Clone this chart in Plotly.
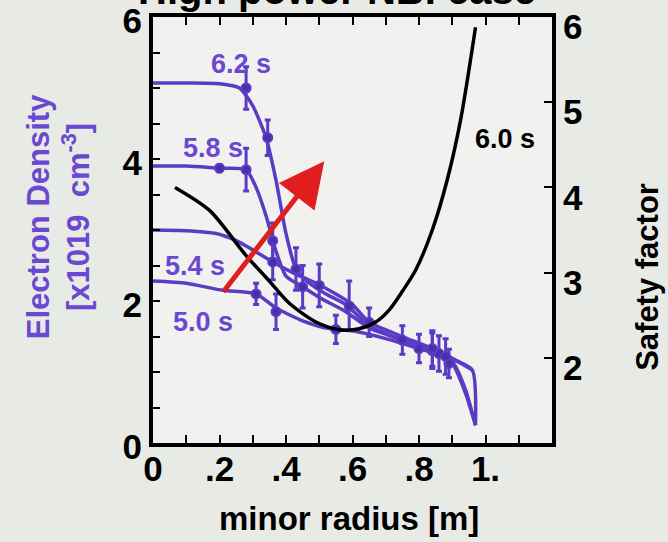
import plotly.graph_objects as go

# ---------------- data ----------------
# Electron density profiles (x = minor radius [m], y = density [x1019 cm-3])
r_62 = [0, 0.1, 0.2, 0.26, 0.30, 0.34, 0.37, 0.40, 0.43, 0.47, 0.52, 0.58, 0.65, 0.75, 0.85, 0.90, 0.94, 0.97]
n_62 = [5.07, 5.07, 5.06, 5.0, 4.75, 4.3, 3.7, 2.95, 2.45, 2.25, 2.1, 1.95, 1.65, 1.45, 1.27, 1.12, 0.7, 0.25]

r_58 = [0, 0.1, 0.2, 0.28, 0.31, 0.34, 0.37, 0.40, 0.45, 0.5, 0.58, 0.65, 0.75, 0.85, 0.9, 0.94, 0.97]
n_58 = [3.9, 3.9, 3.87, 3.85, 3.6, 3.2, 2.7, 2.35, 2.2, 2.05, 1.85, 1.62, 1.45, 1.28, 1.15, 0.75, 0.25]

r_54 = [0, 0.1, 0.19, 0.25, 0.3, 0.36, 0.42, 0.49, 0.55, 0.6, 0.65, 0.75, 0.84, 0.89, 0.96]
n_54 = [3.0, 2.99, 2.95, 2.85, 2.72, 2.55, 2.4, 2.25, 2.1, 1.95, 1.7, 1.5, 1.33, 1.22, 1.03]

r_50 = [0, 0.1, 0.21, 0.31, 0.37, 0.45, 0.52, 0.6, 0.7, 0.8, 0.89, 0.96, 0.97]
n_50 = [2.28, 2.25, 2.15, 2.1, 1.9, 1.72, 1.62, 1.58, 1.47, 1.33, 1.2, 1.03, 0.25]

# Measurement points with error bars
pr_62 = [0.28, 0.345, 0.43, 0.59, 0.84, 0.89]
pn_62 = [5.0, 4.3, 2.45, 1.93, 1.3, 1.12]
pe_62 = [0.3, 0.25, 0.3, 0.35, 0.25, 0.2]

pr_58 = [0.2, 0.28, 0.36, 0.45, 0.75, 0.86]
pn_58 = [3.87, 3.85, 2.85, 2.2, 1.45, 1.26]
pe_58 = [0.05, 0.3, 0.25, 0.3, 0.2, 0.25]

pr_54 = [0.36, 0.5, 0.65, 0.84]
pn_54 = [2.55, 2.22, 1.7, 1.33]
pe_54 = [0.25, 0.3, 0.2, 0.25]

pr_50 = [0.31, 0.37, 0.55, 0.8, 0.88]
pn_50 = [2.1, 1.85, 1.6, 1.33, 1.22]
pe_50 = [0.15, 0.25, 0.2, 0.2, 0.25]

# Safety factor profile at 6.0 s
r_q = [0.066, 0.17, 0.28, 0.35, 0.41, 0.49, 0.56, 0.62, 0.67, 0.71, 0.75, 0.79, 0.84, 0.885, 0.925, 0.97]
q_60 = [4.0, 3.73, 3.2, 2.9, 2.64, 2.42, 2.33, 2.34, 2.42, 2.56, 2.78, 3.03, 3.5, 4.09, 4.79, 5.88]

# Axis ticks
x_ticks = [0, 0.1, 0.2, 0.3, 0.4, 0.5, 0.6, 0.7, 0.8, 0.9, 1.0, 1.1, 1.2]
x_labels = ["0", "", ".2", "", ".4", "", ".6", "", ".8", "", "1.", "", ""]
y_ticks = [0, 0.5, 1, 1.5, 2, 2.5, 3, 3.5, 4, 4.5, 5, 5.5, 6]
y_labels = ["0", "", "", "", "2", "", "", "", "4", "", "", "", "6"]
q_ticks = [1, 2, 3, 4, 5, 6]
q_labels = ["", "2", "3", "4", "5", "6"]

# Labels
time_labels = ["6.2 s", "5.8 s", "5.4 s", "5.0 s"]
label_pos = [(0.265, 5.34), (0.18, 4.15), (0.125, 2.50), (0.15, 1.70)]

PURPLE = "#5a3cc4"
PURPLE_TXT = "#6a48d2"
FONT = "Liberation Sans, Arial, sans-serif"

fig = go.Figure()

for rx, ny in [(r_62, n_62), (r_58, n_58), (r_54, n_54), (r_50, n_50)]:
    fig.add_trace(go.Scatter(x=rx, y=ny, mode="lines", line=dict(color=PURPLE, width=3.5, shape="spline", smoothing=0.6),
                             showlegend=False, hoverinfo="skip"))

for px, pn, pe in [(pr_62, pn_62, pe_62), (pr_58, pn_58, pe_58), (pr_54, pn_54, pe_54), (pr_50, pn_50, pe_50)]:
    fig.add_trace(go.Scatter(x=px, y=pn, mode="markers",
                             marker=dict(color="#4a2fa8", size=9, line=dict(color=PURPLE, width=2)),
                             error_y=dict(type="data", array=pe, color=PURPLE, thickness=3, width=3),
                             error_x=dict(type="constant", value=0.008, color=PURPLE, thickness=3, width=0),
                             showlegend=False))

fig.add_trace(go.Scatter(x=r_q, y=q_60, mode="lines", yaxis="y2",
                         line=dict(color="black", width=3.5, shape="spline", smoothing=0.8),
                         showlegend=False))

annotations = []
for txt, (lx, ly) in zip(time_labels, label_pos):
    annotations.append(dict(x=lx, y=ly, xref="x", yref="y", text=txt, showarrow=False,
                            font=dict(family=FONT, size=27, color=PURPLE_TXT, weight="bold")))
annotations.append(dict(x=1.06, y=4.57, xref="x", yref="y2", text="6.0 s", showarrow=False,
                        font=dict(family=FONT, size=27, color="black", weight="bold")))
# red arrow
annotations.append(dict(x=0.515, y=3.97, ax=0.208, ay=2.11, xref="x", yref="y", axref="x", ayref="y",
                        text="", showarrow=True, arrowhead=2, arrowsize=1.8, arrowwidth=5, arrowcolor="#e01e1e"))
# axis titles
annotations.append(dict(x=0, y=0.53, xref="paper", yref="paper", xanchor="center", yanchor="middle",
                        xshift=-95, textangle=-90,
                        text="Electron Density<br>[x1019  cm<sup>-3</sup>]", showarrow=False,
                        font=dict(family=FONT, size=31, color=PURPLE_TXT, weight="bold")))
annotations.append(dict(x=1, y=0.39, xref="paper", yref="paper", xanchor="center", yanchor="middle",
                        xshift=96, textangle=-90,
                        text="Safety factor", showarrow=False,
                        font=dict(family=FONT, size=31, color="black", weight="bold")))
annotations.append(dict(x=0.49, y=0, xref="paper", yref="paper", xanchor="center", yanchor="middle",
                        yshift=-75,
                        text="minor radius [m]", showarrow=False,
                        font=dict(family=FONT, size=33, color="black", weight="bold")))
# cropped title (only its lower part shows at the top edge)
annotations.append(dict(x=0.46, y=1, xref="paper", yref="paper", yanchor="bottom", yshift=3,
                        text="High power NBI case", showarrow=False,
                        font=dict(family=FONT, size=40, color="black", weight="bold")))

tick_font = dict(family=FONT, size=35, color="black", weight="bold")

fig.update_layout(
    width=668, height=542,
    margin=dict(l=153, r=116, t=17, b=99, autoexpand=False),
    paper_bgcolor="#e8eae5",
    plot_bgcolor="#f1f2ef",
    showlegend=False,
    annotations=annotations,
    xaxis=dict(range=[0, 1.2], tickvals=x_ticks, ticktext=x_labels, ticks="inside", ticklen=8, tickwidth=2,
               tickcolor="black", showline=True, linewidth=4, linecolor="black", mirror="ticks",
               showgrid=False, zeroline=False, ticklabelstandoff=-8, ticklabeloverflow="allow",
               automargin=False, tickfont=tick_font),
    yaxis=dict(range=[0, 6], tickvals=y_ticks, ticktext=y_labels, ticks="inside", ticklen=7, tickwidth=2,
               tickcolor="black", showline=True, linewidth=4, linecolor="black", mirror=True,
               showgrid=False, zeroline=False, ticklabeloverflow="allow", automargin=False,
               ticklabelshift=4, tickfont=tick_font),
    yaxis2=dict(range=[1, 6], overlaying="y", side="right", tickvals=q_ticks, ticktext=q_labels,
                ticks="inside", ticklen=8, tickwidth=2, tickcolor="black", showline=True, linewidth=4,
                linecolor="black", showgrid=False, zeroline=False, ticklabelshift=10,
                ticklabeloverflow="allow", automargin=False, tickfont=tick_font),
)

fig.write_html("out.html")
